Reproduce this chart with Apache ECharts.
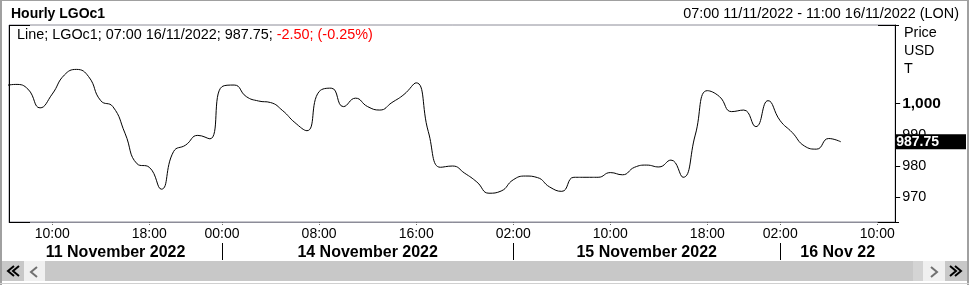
<!DOCTYPE html>
<html>
<head>
<meta charset="utf-8">
<script src="https://cdn.jsdelivr.net/npm/echarts@6/dist/echarts.min.js"></script>
<style>
html,body{margin:0;padding:0;background:#fff;}
#main{width:969px;height:285px;}
</style>
</head>
<body>
<div id="main"></div>
<script>
// ---- data ----
// hourly closes, trading-hour index -1 (06:00 11/11) .. 68 (07:00 16/11)
const firstIndex = -1;
const prices = [1005.6, 1006.1, 1004.6, 998.6, 1003.0, 1009.1, 1010.9, 1008.6, 1000.9, 999.0,
  990.5, 980.7, 979.6, 972.6, 984.6, 986.7, 989.8, 988.7, 1005.4, 1005.9,
  1002.2, 1000.8, 1000.3, 997.7, 993.9, 991.3, 1003.8, 1004.9, 999.0, 1001.7,
  999.0, 997.9, 1000.3, 1002.9, 1006.6, 991.0, 979.6, 980.0, 977.7, 974.9,
  971.3, 972.0, 975.6, 976.8, 976.3, 973.3, 971.9, 976.4, 976.4, 976.4,
  977.9, 977.2, 979.6, 980.3, 979.7, 981.9, 976.4, 989.9, 1004.1, 1002.2,
  997.4, 997.9, 992.6, 1000.9, 994.5, 990.7, 986.4, 985.4, 988.8, 987.75];
const timeTickIndex = [3, 11, 17, 25, 33, 41, 49, 57, 63, 71];
const timeTickLabels = ['10:00', '18:00', '00:00', '08:00', '16:00', '02:00', '10:00', '18:00', '02:00', '10:00'];
const daySeparators = [17, 41, 63];
const dayLabels = ['11 November 2022', '14 November 2022', '15 November 2022', '16 Nov 22'];
const priceTicks = [970, 980, 990, 1000];
const lastPrice = 987.75;
const titleText = 'Hourly LGOc1';
const rangeText = '07:00 11/11/2022 - 11:00 16/11/2022 (LON)';
const legendBlack = 'Line; LGOc1; 07:00 16/11/2022; 987.75; ';
const legendRed = '-2.50; (-0.25%)';
const unitLines = ['Price', 'USD', 'T'];

// ---- layout ----
const W = 969, H = 285;
const GL = 9, GT = 25, GR = 71, GB = 63;
const X_MIN = -0.56, X_MAX = 72.48;
const Y_MIN = 962.1, Y_MAX = 1025.1;
const FONT = '"Liberation Sans", Arial, sans-serif';
const FS = 14.4;

const seriesData = prices.map((v, k) => [firstIndex + k, v]);
const bounds = [X_MIN].concat(daySeparators, [X_MAX]);
const dayCenters = dayLabels.map((_, k) => (bounds[k] + bounds[k + 1]) / 2);

const chart = echarts.init(document.getElementById('main'), null, {renderer: 'canvas'});

const px = GL, pr = W - GR, pt = GT, pb = H - GB;
const gray = '#8c8c98';

function chevron(cx, cy, dir, color, w) {
  // dir: -1 left, 1 right
  return {type: 'polyline', shape: {points: [[cx - dir * 3, cy - 5], [cx + dir * 3, cy], [cx - dir * 3, cy + 5]]},
    style: {stroke: color, lineWidth: w, fill: null}, silent: true};
}

const graphic = [
  // window frame
  {type: 'rect', shape: {x: 0, y: 0, width: 2, height: H}, style: {fill: '#a0a0a0'}, silent: true},
  {type: 'rect', shape: {x: 967, y: 0, width: 2, height: H}, style: {fill: '#a0a0a0'}, silent: true},
  {type: 'rect', shape: {x: 0, y: 0, width: W, height: 1}, style: {fill: '#a0a0a0'}, silent: true},
  {type: 'rect', shape: {x: 0, y: 283, width: W, height: 1}, style: {fill: '#d0d0d0'}, silent: true},
  // plot corner brackets and left edge
  {type: 'line', shape: {x1: px + 0.5, y1: pt, x2: px + 0.5, y2: pb + 1}, style: {stroke: '#000', lineWidth: 1}, z: 10},
  {type: 'line', shape: {x1: px, y1: pt + 0.5, x2: px + 21, y2: pt + 0.5}, style: {stroke: '#000', lineWidth: 1}, z: 10},
  {type: 'line', shape: {x1: px, y1: pb + 0.5, x2: px + 21, y2: pb + 0.5}, style: {stroke: '#000', lineWidth: 1}, z: 10},
  {type: 'line', shape: {x1: pr - 20, y1: pt + 0.5, x2: pr + 1, y2: pt + 0.5}, style: {stroke: '#000', lineWidth: 1}, z: 10},
  {type: 'line', shape: {x1: pr - 20, y1: pb + 0.5, x2: pr + 1, y2: pb + 0.5}, style: {stroke: '#000', lineWidth: 1}, z: 10},
  // header texts
  {type: 'text', x: 11, y: 14, style: {text: titleText, font: 'bold 14px ' + FONT, fill: '#000', verticalAlign: 'middle'}},
  {type: 'text', x: 959, y: 14, style: {text: rangeText, font: FS + 'px ' + FONT, fill: '#000', align: 'right', verticalAlign: 'middle'}},
  {type: 'text', x: 17, y: 35, style: {text: legendBlack + '{r|' + legendRed + '}', font: FS + 'px ' + FONT, fill: '#000', verticalAlign: 'middle',
    rich: {r: {fill: '#ff0000', font: FS + 'px ' + FONT}}}},
  // unit texts
  {type: 'text', x: 904, y: 33, style: {text: unitLines[0], font: FS + 'px ' + FONT, fill: '#000', verticalAlign: 'middle'}},
  {type: 'text', x: 904, y: 51, style: {text: unitLines[1], font: FS + 'px ' + FONT, fill: '#000', verticalAlign: 'middle'}},
  {type: 'text', x: 904, y: 69, style: {text: unitLines[2], font: FS + 'px ' + FONT, fill: '#000', verticalAlign: 'middle'}},
  // scrollbar
  {type: 'rect', shape: {x: 2, y: 261, width: 22, height: 20}, style: {fill: '#c8c8c8'}, silent: true},
  {type: 'rect', shape: {x: 24, y: 261, width: 21, height: 20}, style: {fill: '#f0f0f0'}, silent: true},
  {type: 'rect', shape: {x: 45, y: 261, width: 868, height: 20}, style: {fill: '#c8c8c8'}, silent: true},
  {type: 'rect', shape: {x: 913, y: 261, width: 10, height: 20}, style: {fill: '#d4d4d4'}, silent: true},
  {type: 'rect', shape: {x: 923, y: 261, width: 22, height: 20}, style: {fill: '#f0f0f0'}, silent: true},
  {type: 'rect', shape: {x: 945, y: 261, width: 22, height: 20}, style: {fill: '#c8c8c8'}, silent: true},
  chevron(11, 271, -1, '#000', 2), chevron(16, 271, -1, '#000', 2),
  chevron(34, 272, -1, '#707070', 2),
  chevron(934, 272, 1, '#707070', 2),
  chevron(953, 271, 1, '#000', 2), chevron(958, 271, 1, '#000', 2)
];

const option = {
  animation: false,
  backgroundColor: '#fff',
  textStyle: {fontFamily: FONT},
  grid: {left: GL, top: GT, right: GR, bottom: GB, show: true, borderColor: gray, borderWidth: 1, backgroundColor: '#fff'},
  xAxis: [
    {
      type: 'value', min: X_MIN, max: X_MAX, position: 'bottom',
      axisLine: {show: true, onZero: false, lineStyle: {color: gray, width: 1}},
      axisTick: {show: true, customValues: timeTickIndex, length: 4, lineStyle: {color: '#666', type: 'dotted'}},
      axisLabel: {show: true, customValues: timeTickIndex, margin: 5, fontSize: 14, color: '#000', fontFamily: FONT,
        formatter: v => timeTickLabels[timeTickIndex.indexOf(v)]},
      splitLine: {show: false}
    },
    {
      type: 'value', min: X_MIN, max: X_MAX, position: 'bottom', offset: 21,
      axisLine: {show: false},
      axisTick: {show: true, customValues: daySeparators, length: 17, inside: false, lineStyle: {color: '#000', width: 1}},
      axisLabel: {show: true, customValues: dayCenters, margin: 2, fontSize: 16, fontWeight: 'bold', color: '#000', fontFamily: FONT,
        formatter: v => dayLabels[dayCenters.indexOf(v)]},
      splitLine: {show: false}
    }
  ],
  yAxis: [
    {
      type: 'value', position: 'right', min: Y_MIN, max: Y_MAX,
      axisLine: {show: true, onZero: false, lineStyle: {color: '#000', width: 1}},
      axisTick: {show: true, customValues: priceTicks, length: 5, lineStyle: {color: '#000'}},
      axisLabel: {show: true, customValues: priceTicks, margin: 7, fontSize: FS, color: '#000', fontFamily: FONT,
        formatter: v => v === 1000 ? '{b|1,000}' : String(v),
        rich: {b: {fontSize: 15.5, fontWeight: 'bold', color: '#000', fontFamily: FONT}}},
      splitLine: {show: false}
    },
    {
      type: 'value', position: 'right', min: Y_MIN, max: Y_MAX, z: 20,
      axisLine: {show: false}, axisTick: {show: false}, splitLine: {show: false},
      axisLabel: {show: true, customValues: [lastPrice], margin: 0, fontSize: 14, fontWeight: 'bold', color: '#fff',
        fontFamily: FONT, backgroundColor: '#000', padding: [1, 27, 0, 1], lineHeight: 14,
        formatter: v => v.toFixed(2)}
    }
  ],
  series: [{
    type: 'line', xAxisIndex: 0, yAxisIndex: 0, data: seriesData, smooth: 0.5,
    showSymbol: false, clip: true,
    lineStyle: {color: '#000', width: 1}
  }],
  graphic: graphic
};
chart.setOption(option);
</script>
</body>
</html>
